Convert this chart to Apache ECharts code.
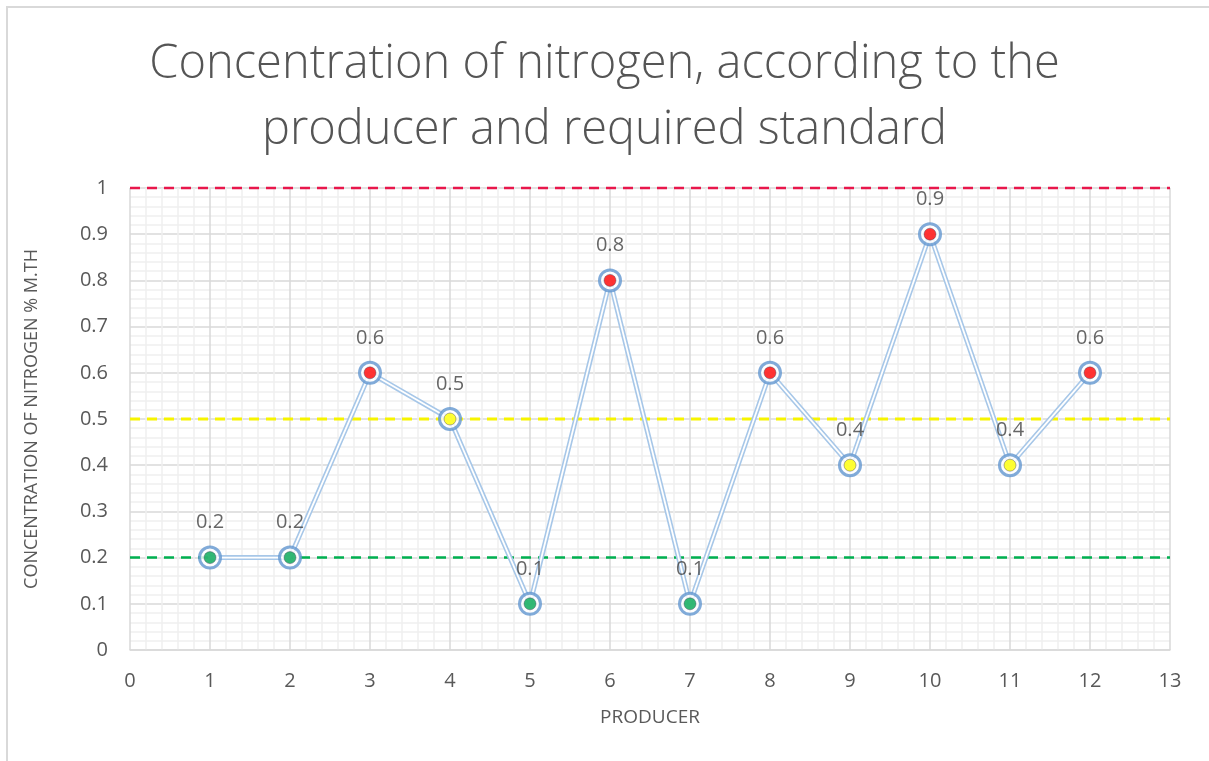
<!DOCTYPE html>
<html>
<head>
<meta charset="utf-8">
<script src="https://cdn.jsdelivr.net/npm/echarts@6/dist/echarts.min.js"></script>
<style>
  html, body { margin: 0; padding: 0; background: #ffffff; }
  #chart { width: 1209px; height: 761px; }
</style>
</head>
<body>
<div id="chart"></div>
<script>
// Producers and measured nitrogen concentration (% m.th)
const producers = [1, 2, 3, 4, 5, 6, 7, 8, 9, 10, 11, 12];
const concentration = [0.2, 0.2, 0.6, 0.5, 0.1, 0.8, 0.1, 0.6, 0.4, 0.9, 0.4, 0.6];

// Standard levels drawn as dashed reference lines
const standardLow = 0.2;
const standardMid = 0.5;
const standardHigh = 1;
const axisXRange = [0, 13];

const GREEN = '#00a651';
const YELLOW = '#ffff00';
const RED = '#ff0000';

function levelColor(v) {
  if (v <= standardLow) return GREEN;
  if (v <= standardMid) return YELLOW;
  return RED;
}

const points = producers.map((p, i) => [p, concentration[i]]);
const refLine = (v) => axisXRange.map(x => [x, v]);

const font = '"Open Sans", "Liberation Sans", sans-serif';

const chart = echarts.init(document.getElementById('chart'), null, { renderer: 'canvas' });

chart.setOption({
  backgroundColor: '#ffffff',
  animation: false,
  title: {
    text: 'Concentration of nitrogen, according to the\nproducer and required standard',
    left: 'center',
    top: 27,
    textStyle: {
      fontFamily: font,
      fontWeight: 300,
      fontSize: 47,
      lineHeight: 66,
      color: '#555555'
    }
  },
  graphic: [{
    type: 'rect',
    silent: true,
    shape: { x: 7, y: 7, width: 1400, height: 1000 },
    style: { fill: 'none', stroke: '#d9d9d9', lineWidth: 2 }
  }],
  grid: { left: 130, right: 39, top: 188, bottom: 111 },
  xAxis: {
    type: 'value',
    min: 0, max: 13, interval: 1,
    name: 'PRODUCER',
    nameLocation: 'middle',
    nameGap: 58,
    nameTextStyle: { fontFamily: font, fontSize: 19, color: '#595959' },
    axisLine: { show: true, lineStyle: { color: '#d9d9d9', width: 1.5 } },
    axisTick: { show: false },
    axisLabel: { fontFamily: font, fontSize: 20, color: '#595959', margin: 21 },
    splitLine: { show: true, lineStyle: { color: '#d9d9d9', width: 1.5 } },
    minorTick: { show: false, splitNumber: 5 },
    minorSplitLine: { show: true, lineStyle: { color: '#f0f0f0', width: 1.5 } }
  },
  yAxis: {
    type: 'value',
    min: 0, max: 1, interval: 0.1,
    name: 'CONCENTRATION OF NITROGEN % M.TH',
    nameLocation: 'middle',
    nameGap: 89,
    nameRotate: 90,
    nameTextStyle: { fontFamily: font, fontSize: 18, color: '#595959' },
    axisLine: { show: false },
    axisTick: { show: false },
    axisLabel: { fontFamily: font, fontSize: 20, color: '#595959', margin: 22 },
    splitLine: { show: true, lineStyle: { color: '#d9d9d9', width: 1.5 } },
    minorTick: { show: false, splitNumber: 5 },
    minorSplitLine: { show: true, lineStyle: { color: '#f0f0f0', width: 1.5 } }
  },
  series: [
    {
      name: 'high standard', type: 'line', data: refLine(standardHigh),
      symbol: 'none', clip: false, silent: true, z: 3,
      lineStyle: { color: '#e8174b', width: 2.5, type: [10, 7] }
    },
    {
      name: 'mid standard', type: 'line', data: refLine(standardMid),
      symbol: 'none', clip: false, silent: true, z: 3,
      lineStyle: { color: '#f7f400', width: 2.8, type: [10, 7] }
    },
    {
      name: 'low standard', type: 'line', data: refLine(standardLow),
      symbol: 'none', clip: false, silent: true, z: 3,
      lineStyle: { color: '#00b050', width: 2.5, type: [10, 7] }
    },
    // double-stroke connecting line: outer light blue, inner white
    {
      name: 'concentration outline', type: 'line', data: points,
      symbol: 'none', silent: true, z: 4,
      lineStyle: { color: '#a7c7e8', width: 5 }
    },
    {
      name: 'concentration', type: 'line', data: points,
      symbol: 'none', silent: true, z: 5,
      lineStyle: { color: '#ffffff', width: 1.8 }
    },
    // marker ring with value label
    {
      name: 'marker ring', type: 'scatter', data: points,
      symbol: 'circle', symbolSize: 21, z: 6,
      itemStyle: { color: '#ffffff', borderColor: '#6196d0', borderWidth: 3 },
      label: {
        show: true, position: 'top', distance: 13,
        fontFamily: font, fontSize: 20, color: '#404040',
        formatter: (p) => String(p.value[1])
      }
    },
    // coloured core by standard level
    {
      name: 'marker core', type: 'scatter',
      data: points.map(pt => ({
        value: pt,
        itemStyle: { color: levelColor(pt[1]), borderColor: 'rgba(60,60,90,0.5)', borderWidth: 1 }
      })),
      symbol: 'circle', symbolSize: 12, z: 7, silent: true
    }
  ]
});
</script>
</body>
</html>
